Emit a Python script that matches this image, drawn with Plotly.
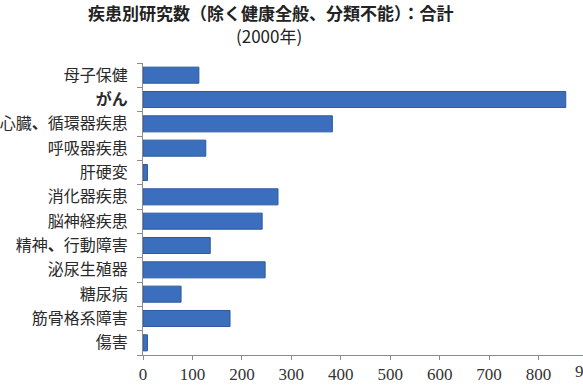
import plotly.graph_objects as go

categories = ["母子保健", "がん", "心臓、循環器疾患", "呼吸器疾患", "肝硬変", "消化器疾患",
              "脳神経疾患", "精神、行動障害", "泌尿生殖器", "糖尿病", "筋骨格系障害", "傷害"]
values = [113, 855, 383, 127, 9, 273, 241, 136, 247, 77, 176, 9]
x_ticks = [0, 100, 200, 300, 400, 500, 600, 700, 800]
title_line1 = "疾患別研究数（除く健康全般、分類不能）：合計"
title_line2 = "(2000年)"


def fmt(label):
    if label == "がん":
        return "<b>がん</b>"
    return label.replace("、", "<b>、</b>")


ticktext = [fmt(c) for c in categories]

fig = go.Figure()
fig.add_trace(go.Bar(
    x=values, y=categories, orientation="h",
    marker=dict(color="#3B6FBE", line=dict(color="#2B5A9C", width=1)),
))

W, H = 583, 386
L, T, B = 143, 63, 31
plot_w = W - L
px_per_unit = 445 / 900
xmax = plot_w / px_per_unit

fig.update_layout(
    width=W, height=H,
    margin=dict(l=L, r=0, t=T, b=B, pad=0),
    paper_bgcolor="white", plot_bgcolor="white",
    bargap=0.34,
    showlegend=False,
    font=dict(family="Noto Sans CJK JP", color="#333333"),
)
fig.update_xaxes(
    range=[0, xmax], tickvals=x_ticks, ticktext=[str(v) for v in x_ticks],
    showgrid=False, zeroline=False,
    showline=True, linecolor="#8C8C8C", linewidth=1,
    ticks="outside", ticklen=4, tickcolor="#8C8C8C",
    tickfont=dict(family="Liberation Serif", size=17, color="#333333"),
)
fig.update_yaxes(
    autorange="reversed", tickvals=categories, ticktext=ticktext,
    showgrid=False, zeroline=False,
    showline=True, linecolor="#8C8C8C", linewidth=1,
    ticks="outside", ticklen=5, tickcolor="#8C8C8C", tickson="boundaries",
    ticklabelstandoff=11,
    tickfont=dict(family="Noto Sans CJK JP", size=16, color="#2A2A2A"),
)

plot_h = H - T - B


def py(ypx):
    return 1 + (T - ypx) / plot_h


def pxx(xpx):
    return (xpx - L) / plot_w


fig.add_annotation(text="<b>" + title_line1 + "</b>", xref="paper", yref="paper",
                   x=pxx(271), y=py(13), xanchor="center", yanchor="middle",
                   showarrow=False, font=dict(family="Noto Sans CJK JP", size=17, color="#222222"))
fig.add_annotation(text=title_line2, xref="paper", yref="paper",
                   x=pxx(269), y=py(36), xanchor="center", yanchor="middle",
                   showarrow=False, font=dict(family="Noto Sans CJK JP", size=17, color="#222222"))
# 900 tick label, partially outside the visible window like the reference
fig.add_annotation(text="900", xref="paper", yref="paper",
                   x=pxx(143 + 900 * px_per_unit), y=py(372), xanchor="center", yanchor="middle",
                   showarrow=False, font=dict(family="Liberation Serif", size=17, color="#333333"))

fig.write_html("out.html")
